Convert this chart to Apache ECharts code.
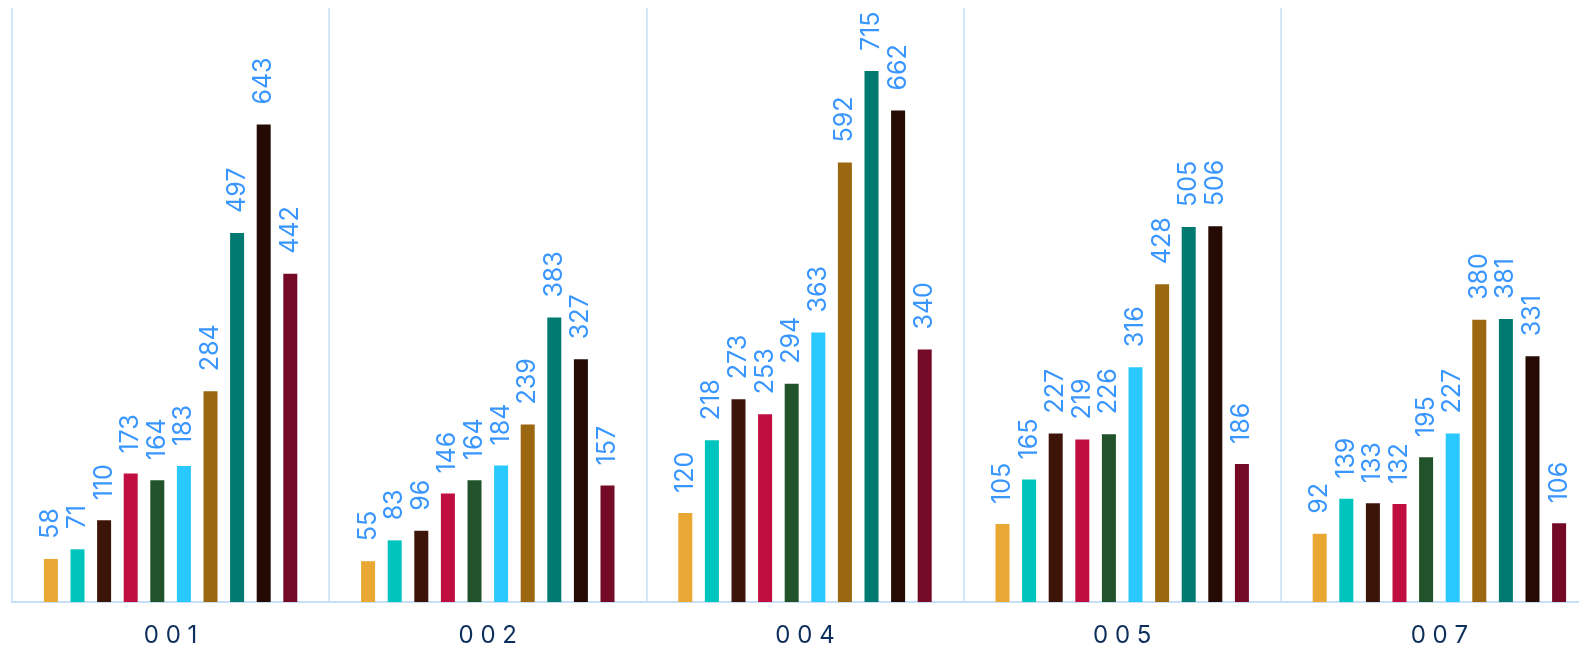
<!DOCTYPE html>
<html>
<head>
<meta charset="utf-8">
<script src="https://cdn.jsdelivr.net/npm/echarts@6/dist/echarts.min.js"></script>
<style>
  html, body { margin: 0; padding: 0; background: #fff; }
  #chart { width: 1579px; height: 652px; }
</style>
</head>
<body>
<div id="chart"></div>
<script>
const categories = ['001', '002', '004', '005', '007'];
const seriesNames = ['A', 'B', 'C', 'D', 'E', 'F', 'G', 'H', 'I', 'J'];
const colors = ['#e9a734', '#00c5be', '#3c1508', '#c10e41', '#215229', '#29c8ff', '#9b6711', '#007971', '#260b04', '#740a26'];
// one array per series, values for 001, 002, 004, 005, 007
const values = [
  [58, 55, 120, 105, 92],
  [71, 83, 218, 165, 139],
  [110, 96, 273, 227, 133],
  [173, 146, 253, 219, 132],
  [164, 164, 294, 226, 195],
  [183, 184, 363, 316, 227],
  [284, 239, 592, 428, 380],
  [497, 383, 715, 505, 381],
  [643, 327, 662, 506, 331],
  [442, 157, 340, 186, 106]
];

const chart = echarts.init(document.getElementById('chart'));
chart.setOption({
  animation: false,
  grid: { left: 12, right: -19, top: 8, bottom: 50, outerBoundsMode: 'none', containLabel: false },
  xAxis: {
    type: 'category',
    data: categories,
    axisLine: { lineStyle: { color: '#c6e0fa', width: 2 } },
    axisTick: { show: false },
    axisLabel: {
      color: '#0d2f5c', fontSize: 24, fontFamily: 'Inter',
      margin: 22,
      formatter: v => v.split('').join(' ')
    },
    splitLine: { show: true, interval: 0, lineStyle: { color: '#c6e0fa', width: 1.5 } }
  },
  yAxis: {
    type: 'value', min: 0, max: 800, show: false,
    splitLine: { show: false }
  },
  series: values.map((d, i) => ({
    name: seriesNames[i],
    type: 'bar',
    data: d,
    barWidth: 14,
    barGap: '90%',
    itemStyle: { color: colors[i] },
    label: {
      show: true,
      position: 'top',
      rotate: 90,
      align: 'left',
      verticalAlign: 'middle',
      distance: 20,
      color: '#3a96ff',
      fontSize: 25,
      fontFamily: 'Inter'
    }
  }))
});
</script>
</body>
</html>
